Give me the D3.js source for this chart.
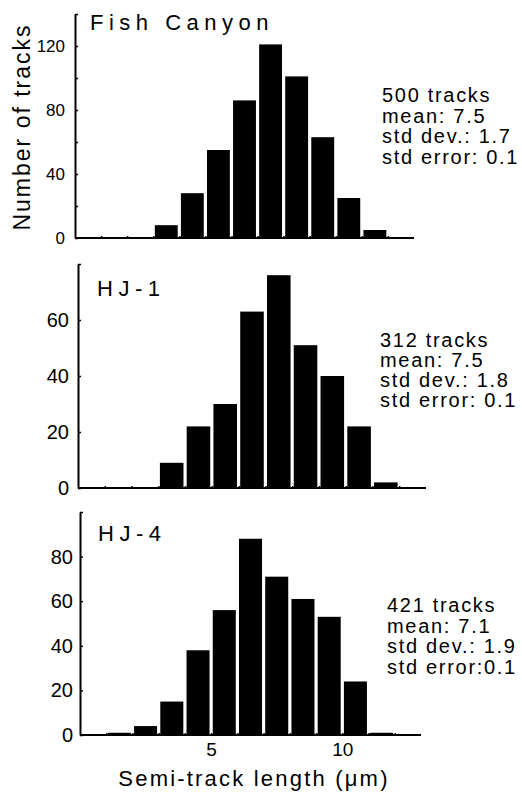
<!DOCTYPE html>
<html lang="en">
<head>
  <meta charset="UTF-8">
  <title>Semi-track length histograms</title>
  <script src="https://d3js.org/d3.v7.min.js"></script>
  <style>
    body { margin: 0; background: #fff; }
    svg { display: block; font-family: "Liberation Sans", Arial, Helvetica, sans-serif; }
    .bar { fill: #000; }
    .axis path, .axis line { stroke: #000; }
    .axis text { fill: #000; }
  </style>
</head>
<body>
  <svg width="522" height="792"></svg>

  <script>
    // bin lower edges (µm), each bin is 1 µm wide
    const binStarts = [0, 1, 2, 3, 4, 5, 6, 7, 8, 9, 10, 11, 12];

    // counts per bin
    const fishCanyon = [0, 0, 0, 8, 28, 55, 86, 121, 101, 63, 25, 5, 0];
    const hj1 = [0, 0, 0, 9, 22, 30, 63, 76, 51, 40, 22, 2, 0];
    const hj4 = [0, 1, 4, 15, 38, 56, 88, 71, 61, 53, 24, 1, 0];

    const titles = ["Fish Canyon", "HJ-1", "HJ-4"];
    const statsFish = ["500 tracks", "mean: 7.5", "std dev.: 1.7", "std error: 0.1"];
    const statsHj1 = ["312 tracks", "mean: 7.5", "std dev.: 1.8", "std error: 0.1"];
    const statsHj4 = ["421 tracks", "mean: 7.1", "std dev.: 1.9", "std error:0.1"];

    const yMaxes = [140, 80, 100];
    const yTicksFish = [0, 20, 40, 60, 80, 100, 120, 140];
    const yLabelsFish = [0, 40, 80, 120];
    const yTicksHj1 = [0, 20, 40, 60, 80];
    const yLabelsHj1 = [0, 20, 40, 60];
    const yTicksHj4 = [0, 20, 40, 60, 80, 100];
    const yLabelsHj4 = [0, 20, 40, 60, 80];
    const xTicks = [1, 2, 3, 4, 5, 6, 7, 8, 9, 10, 11, 12];
    const xLabels = [5, 10];

    const svg = d3.select("svg");

    // per-panel placement (the scanned panels are not perfectly aligned)
    const panels = [
      { values: fishCanyon, title: titles[0], stats: statsFish, ymax: yMaxes[0],
        ticks: yTicksFish, labels: yLabelsFish,
        xr: [75, 414], yr: [238, 14], labelSize: 17, pad: 10,
        titlePos: [90, 30], statsPos: [382, 102], statsStep: 20.5 },
      { values: hj1, title: titles[1], stats: statsHj1, ymax: yMaxes[1],
        ticks: yTicksHj1, labels: yLabelsHj1,
        xr: [78, 426], yr: [488, 264], labelSize: 20, pad: 9,
        titlePos: [97, 296], statsPos: [380, 347], statsStep: 20 },
      { values: hj4, title: titles[2], stats: statsHj4, ymax: yMaxes[2],
        ticks: yTicksHj4, labels: yLabelsHj4,
        xr: [80, 421], yr: [735, 512], labelSize: 20, pad: 7,
        titlePos: [98, 541], statsPos: [387, 612], statsStep: 20.7 }
    ];

    panels.forEach((p, i) => {
      const x = d3.scaleLinear().domain([0, 13]).range(p.xr);
      const y = d3.scaleLinear().domain([0, p.ymax]).range(p.yr);
      const g = svg.append("g");

      // bars
      g.selectAll(".bar")
        .data(binStarts.map((b, k) => ({ b, v: p.values[k] })).filter(d => d.v > 0))
        .enter()
        .append("rect")
          .attr("class", "bar")
          .attr("x", d => x(d.b) + 1.6)
          .attr("y", d => y(d.v))
          .attr("width", d => x(d.b + 1) - x(d.b) - 3.2)
          .attr("height", d => y(0) - y(d.v));

      // baseline
      g.append("line")
        .attr("x1", x(0)).attr("x2", x(13))
        .attr("y1", y(0)).attr("y2", y(0))
        .attr("stroke", "#000").attr("stroke-width", 2);

      // y axis
      const yAxis = g.append("g")
        .attr("class", "axis")
        .attr("transform", `translate(${x(0)},0)`)
        .call(d3.axisLeft(y)
          .tickValues(p.ticks)
          .tickSize(-3)
          .tickSizeOuter(0)
          .tickPadding(p.pad)
          .tickFormat(v => p.labels.includes(v) ? v : ""));
      yAxis.select(".domain").attr("stroke-width", 2);
      yAxis.selectAll("line").attr("stroke-width", 1.5);
      yAxis.selectAll("text").style("font-size", p.labelSize + "px");

      // x ticks (bottom panel gets labels)
      const xAxis = g.append("g")
        .attr("class", "axis")
        .attr("transform", `translate(0,${y(0)})`)
        .call(d3.axisBottom(x)
          .tickValues(xTicks)
          .tickSize(-2)
          .tickSizeOuter(0)
          .tickPadding(8)
          .tickFormat(v => (i === 2 && xLabels.includes(v)) ? v : ""));
      xAxis.select(".domain").remove();
      xAxis.selectAll("line").attr("stroke-width", 1.5);
      xAxis.selectAll("text").style("font-size", "19px");

      // panel title
      g.append("text")
        .attr("x", p.titlePos[0]).attr("y", p.titlePos[1])
        .style("font-size", "22px")
        .style("letter-spacing", "5.5px")
        .text(p.title);

      // stats block
      g.selectAll(".stat")
        .data(p.stats)
        .enter()
        .append("text")
          .attr("class", "stat")
          .attr("x", p.statsPos[0])
          .attr("y", (d, k) => p.statsPos[1] + k * p.statsStep)
          .style("font-size", "20px")
          .style("letter-spacing", "1.7px")
          .text(d => d);
    });

    // axis titles
    svg.append("text")
      .attr("transform", "translate(30,127) rotate(-90)")
      .attr("text-anchor", "middle")
      .style("font-size", "23px")
      .style("letter-spacing", "2px")
      .text("Number of tracks");

    svg.append("text")
      .attr("x", 254).attr("y", 786)
      .attr("text-anchor", "middle")
      .style("font-size", "22px")
      .style("letter-spacing", "2.2px")
      .text("Semi-track length (μm)");
  </script>
</body>
</html>
